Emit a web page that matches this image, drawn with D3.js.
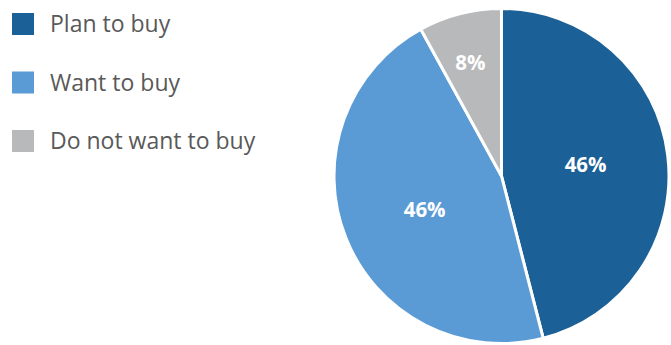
<!DOCTYPE html>
<html>
<head>
<meta charset="utf-8">
<script src="https://cdn.jsdelivr.net/npm/d3@7"></script>
<style>
  html, body { margin: 0; padding: 0; background: #fff; }
  svg { display: block; font-family: "Open Sans", sans-serif; }
</style>
</head>
<body>
<svg id="chart" width="671" height="345"></svg>
<script>
// Purchase intent shares
const categories = ["Plan to buy", "Want to buy", "Do not want to buy"];
const values = [46, 46, 8];
const labels = ["46%", "46%", "8%"];
const colors = ["#1b6096", "#5b9bd5", "#b8b9bb"];

const svg = d3.select("#chart");
const cx = 501.5, cy = 176, r = 167.5;

const color = d3.scaleOrdinal().domain(categories).range(colors);

const pie = d3.pie().sort(null).value(d => d.value);
const data = categories.map((c, i) => ({ name: c, value: values[i], label: labels[i] }));
const arcs = pie(data);

const arc = d3.arc().innerRadius(0).outerRadius(r);
const labelArc = d3.arc().innerRadius(r * 0.5).outerRadius(r * 0.5);
const outerLabelArc = d3.arc().innerRadius(r * 0.7).outerRadius(r * 0.7);

const g = svg.append("g").attr("transform", `translate(${cx},${cy})`);

g.selectAll("path.slice")
  .data(arcs)
  .join("path")
  .attr("class", "slice")
  .attr("d", arc)
  .attr("fill", d => color(d.data.name))
  .attr("stroke", "#fff")
  .attr("stroke-width", 3)
  .attr("stroke-linejoin", "round");

// small slice gets its label pushed further out
const labelOffsets = [[1, -1], [1, 3], [-2, 0]];
g.selectAll("text.val")
  .data(arcs)
  .join("text")
  .attr("class", "val")
  .attr("transform", (d, i) => {
    const [x, y] = (i === 2 ? outerLabelArc : labelArc).centroid(d);
    return `translate(${x + labelOffsets[i][0]},${y + labelOffsets[i][1]})`;
  })
  .attr("text-anchor", "middle")
  .attr("dy", "0.35em")
  .attr("fill", "#fff")
  .attr("font-weight", 700)
  .attr("font-size", 20.5)
  .text(d => d.data.label);

// Legend
const legend = svg.append("g").attr("transform", "translate(12,13)");
const item = legend.selectAll("g")
  .data(categories)
  .join("g")
  .attr("transform", (d, i) => `translate(0,${i * 58.5})`);

item.append("rect")
  .attr("width", 22)
  .attr("height", 22)
  .attr("fill", d => color(d));

item.append("text")
  .attr("x", 38)
  .attr("y", 11)
  .attr("dy", "0.35em")
  .attr("fill", "#595959")
  .attr("font-size", 23)
  .text(d => d);
</script>
</body>
</html>
